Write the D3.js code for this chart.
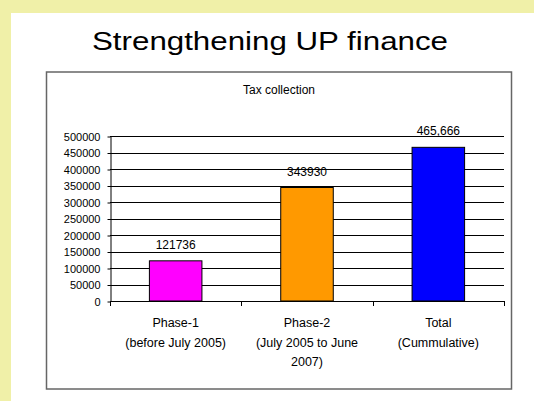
<!DOCTYPE html>
<html>
<head>
<meta charset="utf-8">
<script src="https://cdn.jsdelivr.net/npm/d3@7"></script>
<style>
  body { margin: 0; background: #f0f0a8; }
  svg { display: block; }
</style>
</head>
<body>
<svg class="chart" width="534" height="401"></svg>
<script>
let categories = [
    ["Phase-1", "(before July 2005)"],
    ["Phase-2", "(July  2005 to June", "2007)"],
    ["Total", "(Cummulative)"]
]
let values = [121736, 343930, 465666]
let value_labels = ["121736", "343930", "465,666"]
let colors = ["#ff00ff", "#ff9900", "#0000ff"]
let y_ticks = [0, 50000, 100000, 150000, 200000, 250000, 300000, 350000, 400000, 450000, 500000]

let width = 534
let height = 401

let svg = d3.select(".chart")

// white slide panel
svg.append("rect")
    .attr("x", 11).attr("y", 13)
    .attr("width", width - 11).attr("height", height - 13)
    .attr("fill", "#ffffff")

svg.append("text")
    .attr("x", 270).attr("y", 50)
    .attr("text-anchor", "middle")
    .attr("font-family", "Liberation Sans, Arial, sans-serif")
    .attr("font-size", 26)
    .attr("textLength", 356)
    .attr("lengthAdjust", "spacingAndGlyphs")
    .attr("fill", "#000")
    .text("Strengthening UP finance")

// chart frame
svg.append("rect")
    .attr("x", 46.5).attr("y", 72)
    .attr("width", 465).attr("height", 317)
    .attr("fill", "none")
    .attr("stroke", "#666")
    .attr("stroke-width", 1.5)

let font = "Liberation Sans, Arial, sans-serif"

svg.append("text")
    .attr("x", 279).attr("y", 94)
    .attr("text-anchor", "middle")
    .attr("font-family", font)
    .attr("font-size", 12)
    .attr("fill", "#000")
    .text("Tax collection")

let x = d3.scaleBand()
    .domain(d3.range(categories.length))
    .range([110, 504])
    .paddingInner(0.6)
    .paddingOuter(0.3)

let y = d3.scaleLinear()
    .domain([0, 500000])
    .range([301, 136])

// gridlines
svg.append("g")
    .selectAll("line")
    .data(y_ticks.filter(d => d > 0))
    .enter().append("line")
    .attr("x1", 110).attr("x2", 504)
    .attr("y1", d => Math.round(y(d)) + 0.5)
    .attr("y2", d => Math.round(y(d)) + 0.5)
    .attr("stroke", "#000")
    .attr("stroke-width", 1)

// y axis
let y_axis = svg.append("g")
    .attr("transform", "translate(110.5,0.5)")
    .call(d3.axisLeft(y).tickValues(y_ticks).tickSize(3).tickSizeOuter(0).tickFormat(d3.format("d")))
y_axis.select(".domain").attr("stroke", "#000")
y_axis.selectAll("text")
    .attr("font-family", font)
    .attr("font-size", 11)
    .attr("fill", "#000")
    .attr("x", -10)

// x axis line with category ticks between bands
let x_axis = svg.append("g")
x_axis.append("line")
    .attr("x1", 110).attr("x2", 504)
    .attr("y1", 301.5).attr("y2", 301.5)
    .attr("stroke", "#000")
x_axis.selectAll("line.tick")
    .data(d3.range(categories.length + 1))
    .enter().append("line")
    .classed("tick", true)
    .attr("x1", d => Math.round(110 + d * (394 / categories.length)) + 0.5)
    .attr("x2", d => Math.round(110 + d * (394 / categories.length)) + 0.5)
    .attr("y1", 301).attr("y2", 306)
    .attr("stroke", "#000")

// bars
svg.append("g")
    .selectAll("rect")
    .data(values)
    .enter().append("rect")
    .attr("x", (d, i) => x(i))
    .attr("y", d => y(d))
    .attr("width", x.bandwidth())
    .attr("height", d => y(0) - y(d))
    .attr("fill", (d, i) => colors[i])
    .attr("stroke", "#000")
    .attr("stroke-width", 1)

// value labels
svg.append("g")
    .selectAll("text")
    .data(values)
    .enter().append("text")
    .attr("x", (d, i) => x(i) + x.bandwidth() / 2)
    .attr("y", d => y(d) - 12)
    .attr("text-anchor", "middle")
    .attr("font-family", font)
    .attr("font-size", 12)
    .attr("fill", "#000")
    .text((d, i) => value_labels[i])

// category labels
let cat = svg.append("g")
    .selectAll("text")
    .data(categories)
    .enter().append("text")
    .attr("text-anchor", "middle")
    .attr("font-family", font)
    .attr("font-size", 12.5)
    .attr("fill", "#000")

cat.selectAll("tspan")
    .data((d, i) => d.map(line => ({line: line, i: i})))
    .enter().append("tspan")
    .attr("x", d => x(d.i) + x.bandwidth() / 2)
    .attr("y", (d, j) => 327 + j * 19.5)
    .text(d => d.line)
</script>
</body>
</html>
